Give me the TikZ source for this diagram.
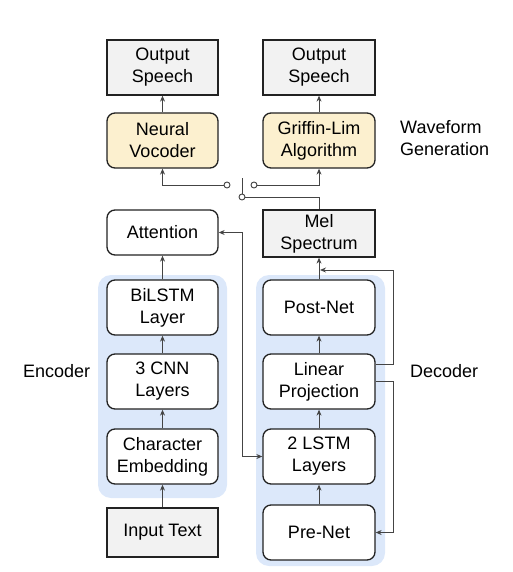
\documentclass[tikz,border=0pt]{standalone}
\usepackage{fontspec}
\setmainfont{Liberation Sans}
\usetikzlibrary{arrows.meta,calc}
\definecolor{grayfill}{HTML}{F2F2F2}
\definecolor{yellowfill}{HTML}{FCF0CF}
\definecolor{bluebg}{HTML}{DCE8FA}
\definecolor{edge}{HTML}{222222}
\definecolor{wire}{HTML}{444444}
\begin{document}
\begin{tikzpicture}[x=1pt,y=-1pt,
  txt/.style={font=\fontsize{18}{22}\selectfont},
  rbox/.style={txt,draw=edge,line width=1.3pt,rounded corners=8pt,fill=white,
    minimum width=111pt,minimum height=55pt,align=center,inner sep=0pt},
  gbox/.style={rbox,rounded corners=0pt,fill=grayfill},
  ybox/.style={rbox,fill=yellowfill},
  bgpanel/.style={fill=bluebg,draw=none,rounded corners=13pt},
  wireline/.style={draw=wire,line width=0.9pt},
  arr/.style={wireline,-{Stealth[length=6pt,width=5pt]}},
  darr/.style={wireline,{Stealth[length=6pt,width=5pt]}-{Stealth[length=6pt,width=5pt]}},
  swc/.style={circle,draw=wire,line width=0.9pt,fill=white,inner sep=0pt,minimum size=6pt},
  lbl/.style={txt,align=left,inner sep=0pt}
]
\useasboundingbox (0,0) rectangle (513,572);
% background panels
\fill[bgpanel] (98,275) rectangle (227,498);
\fill[bgpanel] (256,275) rectangle (385,566);
% left column
\node[gbox] (outL) at (162.5,67.5) {Output\\Speech};
\node[ybox] (voc) at (162.5,140.5) {Neural\\Vocoder};
\node[rbox,minimum height=45pt] (att) at (162.5,232.5) {Attention};
\node[rbox] (bil) at (162.5,307.5) {BiLSTM\\Layer};
\node[rbox] (cnn) at (162.5,381.5) {3 CNN\\Layers};
\node[rbox] (emb) at (162.5,456.5) {Character\\Embedding};
\node[gbox,minimum height=49pt] (inp) at (162.5,532.5) {Input Text};
% right column
\node[gbox,minimum width=112pt] (outR) at (319,67.5) {Output\\Speech};
\node[ybox,minimum width=112pt] (gla) at (319,140.5) {Griffin-Lim\\Algorithm};
\node[gbox,minimum width=112pt,minimum height=47pt] (mel) at (319,233.5) {Mel\\Spectrum};
\node[rbox,minimum width=112pt] (post) at (319,307.5) {Post-Net};
\node[rbox,minimum width=112pt] (lin) at (319,381.5) {Linear\\Projection};
\node[rbox,minimum width=112pt] (lstm) at (319,456.5) {2 LSTM\\Layers};
\node[rbox,minimum width=112pt] (pre) at (319,532.5) {Pre-Net};
% labels
\node[lbl,anchor=west] (wav) at (400,138) {Waveform\\Generation};
\node[lbl,anchor=west] (enc) at (23,371) {Encoder};
\node[lbl,anchor=west] (dec) at (410,371) {Decoder};
% vertical arrows
\draw[arr] (voc) -- (outL);
\draw[arr] (gla) -- (outR);
\draw[arr] (bil) -- (att);
\draw[arr] (cnn) -- (bil);
\draw[arr] (emb) -- (cnn);
\draw[arr] (inp) -- (emb);
\draw[arr] (post) -- (mel);
\draw[arr] (lin) -- (post);
\draw[arr] (lstm) -- (lin);
\draw[arr] (pre) -- (lstm);
% switch
\node[swc] (swL) at (227,185) {};
\node[swc] (swR) at (254,185) {};
\node[swc] (swP) at (242,197) {};
\coordinate (blade) at (242,178);
\draw[wireline] (swP.north) -- (blade);
\draw[arr] (swL.west) -- (swL.west -| voc.south) -- (voc.south);
\draw[arr] (swR.east) -- (swR.east -| gla.south) -- (gla.south);
\draw[wireline] (swP.east) -- (swP.east -| mel.north) -- (mel.north);
% attention <-> decoder
\coordinate (attx) at (242,232.5);
\draw[darr] (att.east |- attx) -- (attx) -- (attx |- lstm.west) -- (lstm.west);
% feedback loops
\coordinate (fbT) at (393,364);
\coordinate (fbB) at (393,381);
\coordinate (melin) at (319,270);
\draw[arr] (lin.east |- fbT) -- (fbT) -- (fbT |- melin) -- ($(melin)+(1,0)$);
\draw[arr] (lin.east |- fbB) -- (fbB) -- (fbB |- pre.east) -- (pre.east);
\end{tikzpicture}
\end{document}
